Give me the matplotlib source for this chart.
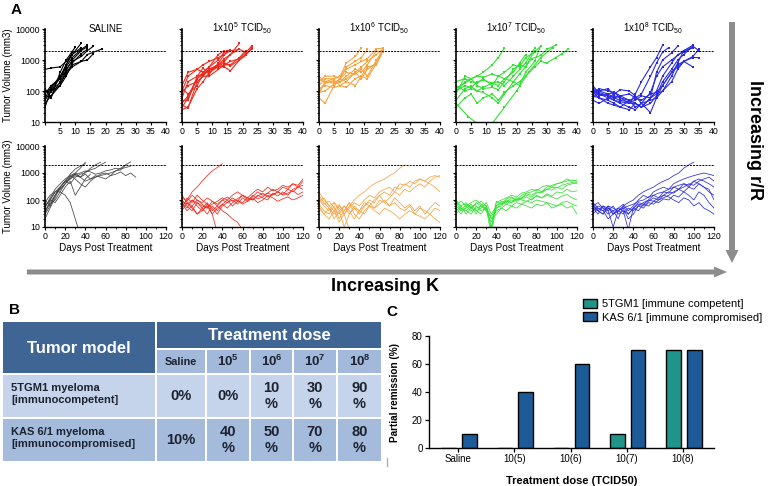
import matplotlib
matplotlib.use('Agg')
import matplotlib.pyplot as plt
from matplotlib.patches import Rectangle, FancyArrow
from matplotlib.ticker import LogLocator, NullFormatter, FixedLocator, MultipleLocator
import numpy as np

plt.rcParams['font.family'] = ['Liberation Sans', 'DejaVu Sans']
plt.rcParams['mathtext.fontset'] = 'custom'
plt.rcParams['mathtext.rm'] = 'Liberation Sans'
plt.rcParams['mathtext.it'] = 'Liberation Sans:italic'
plt.rcParams['mathtext.bf'] = 'Liberation Sans:bold'

# ---------------- DATA ----------------
PANEL_TITLES = ['SALINE', r'1x10$^{5}$ TCID$_{50}$', r'1x10$^{6}$ TCID$_{50}$',
                r'1x10$^{7}$ TCID$_{50}$', r'1x10$^{8}$ TCID$_{50}$']
PANEL_COLORS = ['#000000', '#ee2a1e', '#f6a443', '#33e033', '#2a2ae0']
BOTTOM_COLORS = ['#444444', '#ee2a1e', '#f6a443', '#33e033', '#2a2ae0']
THRESHOLD = 2000

TOP_SALINE = [
    ([0, 2, 5, 7, 9, 12], [60, 130, 300, 700, 1500, 3500]),
    ([0, 2, 5, 7, 9, 12, 14], [90, 120, 250, 600, 1200, 2200, 3000]),
    ([0, 2, 5, 7, 9, 12], [500, 550, 600, 900, 1500, 2500]),
    ([0, 2, 5, 7, 9, 12, 14, 16], [70, 65, 200, 500, 900, 1300, 2000, 2800]),
    ([0, 2, 5, 7, 9, 12, 14, 19], [100, 90, 300, 400, 700, 900, 1500, 2300]),
    ([0, 2, 5, 7, 9, 12, 14], [50, 100, 150, 450, 1000, 2000, 2700]),
    ([0, 2, 5, 7, 9, 12, 14, 16], [30, 110, 180, 350, 600, 900, 1000, 1600]),
    ([0, 2, 5, 7, 10], [120, 60, 400, 1000, 2600]),
    ([0, 2, 5, 7, 9, 12], [80, 150, 250, 700, 1800, 2000]),
    ([0, 2, 5, 7, 9, 12, 14], [40, 70, 150, 300, 800, 1600, 2200]),
]
TOP_1E5 = [
    ([0, 2, 5, 7, 9, 12, 14, 16, 19], [30, 60, 250, 350, 500, 700, 900, 1500, 3500]),
    ([0, 2, 5, 7, 9, 12, 14, 16, 19, 21, 23], [25, 30, 120, 200, 400, 600, 700, 900, 1100, 1700, 2800]),
    ([0, 2, 5, 7, 9, 12, 14, 16, 19, 21], [150, 400, 500, 700, 900, 1200, 1500, 2000, 2200, 1800]),
    ([0, 2, 5, 7, 9, 12, 14, 16], [100, 300, 500, 400, 600, 1000, 1800, 2100]),
    ([0, 2, 5, 7, 9, 12, 14, 16, 19, 21, 23], [50, 50, 300, 350, 500, 600, 600, 450, 1000, 1500, 2200]),
    ([0, 2, 5, 7, 9, 12, 14, 16, 19, 21], [90, 150, 200, 300, 300, 500, 700, 700, 1200, 2000]),
    ([0, 2, 5, 7, 9, 12, 14], [40, 70, 250, 400, 600, 1500, 2000]),
    ([0, 2, 5, 7, 9, 12, 14, 16, 19, 21, 23], [120, 80, 150, 350, 450, 650, 800, 650, 1000, 1400, 2500]),
    ([0, 2, 5, 7, 9, 12, 14, 16, 19], [35, 28, 200, 300, 500, 700, 1100, 1500, 2300]),
    ([0, 2, 5, 7, 9, 12, 15], [60, 200, 300, 550, 350, 800, 2000]),
]
TOP_1E6 = [
    ([0, 2, 5, 7, 9, 12, 14], [150, 250, 250, 300, 800, 1300, 2500]),
    ([0, 2, 5, 7, 9, 12, 14, 16, 19, 21], [100, 180, 200, 200, 250, 400, 600, 900, 1500, 2200]),
    ([0, 2, 5, 7, 9, 12, 14, 16, 19, 21], [300, 200, 180, 250, 400, 350, 500, 300, 1000, 2000]),
    ([0, 2, 5, 7, 9, 12, 14, 16, 19, 21], [80, 200, 250, 300, 500, 700, 900, 1100, 2300, 2400]),
    ([0, 2, 5, 7, 9, 12, 14, 16, 19, 21], [60, 40, 150, 250, 200, 400, 250, 500, 800, 2100]),
    ([0, 2, 5, 7, 9, 12, 14, 16], [200, 300, 300, 250, 600, 900, 1200, 2200]),
    ([0, 2, 5, 7, 9, 12, 14, 16, 19, 21], [120, 150, 130, 150, 130, 250, 300, 250, 800, 1800]),
    ([0, 2, 5, 7, 9, 12, 14, 16, 19], [90, 100, 170, 200, 300, 500, 400, 700, 2000]),
    ([0, 2, 5, 7, 9, 12, 14, 16, 19, 21], [250, 180, 220, 150, 200, 150, 300, 600, 700, 1900]),
]
TOP_1E7 = [
    ([0, 3, 5, 7, 9, 12, 14, 16], [100, 200, 250, 300, 400, 700, 1200, 2500]),
    ([0, 3, 5, 7, 9, 12, 14, 16, 19, 21, 23, 26, 28], [200, 250, 200, 180, 250, 150, 300, 400, 700, 600, 1200, 1800, 2800]),
    ([0, 3, 5, 7, 9, 12, 14, 16, 19, 21, 23, 26, 28, 30, 33, 35, 37],
     [30, 60, 80, 40, 60, 80, 50, 90, 150, 200, 300, 600, 900, 800, 1200, 1600, 2200]),
    ([0, 3, 5, 7, 9, 12, 14, 16, 19, 21, 23, 26], [150, 100, 120, 100, 130, 180, 200, 150, 300, 500, 800, 2400]),
    ([0, 3, 5, 7, 9, 12, 14, 16, 19, 21, 23, 25, 28, 30, 33],
     [80, 300, 250, 150, 120, 130, 110, 200, 500, 700, 600, 1100, 1400, 2200, 3000]),
    ([0, 3, 5, 7, 9, 12, 14, 16, 19, 21, 23, 26, 28], [50, 120, 140, 100, 90, 60, 40, 80, 200, 150, 400, 900, 2900]),
    ([0, 3, 5, 7, 9, 12, 14, 16, 19, 21, 23, 26], [100, 150, 130, 200, 220, 180, 150, 250, 200, 350, 600, 2000]),
    ([0, 4, 7, 10, 12, 16, 20, 24, 28, 32], [40, 15, 9, 6, 9, 30, 100, 400, 1200, 2500]),
    ([0, 3, 5, 7, 9, 12, 14, 16, 19, 21, 23], [120, 180, 250, 300, 280, 350, 300, 250, 400, 800, 1500]),
]
TOP_1E8 = [
    ([0, 2, 5, 7, 9, 12, 14, 16, 19, 21, 23], [100, 80, 60, 50, 45, 40, 80, 200, 600, 1200, 3000]),
    ([0, 2, 5, 7, 9, 12, 14, 16, 19, 21, 23, 25], [80, 120, 100, 90, 60, 50, 60, 80, 300, 800, 1800, 2500]),
    ([0, 2, 5, 7, 9, 12, 14, 16, 19, 21, 23, 26, 28], [60, 100, 120, 70, 60, 40, 40, 30, 60, 400, 1000, 1700, 2800]),
    ([0, 2, 5, 7, 9, 12, 14, 16, 19, 21, 23, 26, 28, 30, 33],
     [150, 80, 70, 60, 50, 45, 50, 70, 60, 100, 300, 800, 1500, 1800, 2500]),
    ([0, 2, 5, 7, 9, 12, 14, 16, 19, 21, 23, 26, 28, 30, 33, 35],
     [100, 70, 80, 60, 70, 50, 30, 40, 20, 60, 150, 400, 700, 900, 1200, 1200]),
    ([0, 2, 5, 7, 9, 12, 14, 16, 19, 21, 23, 26, 28, 30, 33, 35],
     [70, 60, 50, 40, 30, 50, 40, 30, 40, 70, 200, 500, 1000, 1500, 2800, 2000]),
    ([0, 2, 5, 7, 9, 12, 14, 16, 19, 21, 23, 26, 28, 30, 33],
     [120, 100, 80, 90, 70, 80, 60, 50, 80, 90, 150, 400, 600, 900, 600]),
    ([0, 2, 5, 7, 9, 12, 14, 16, 19, 21, 23, 26, 28, 30, 33],
     [90, 60, 40, 35, 30, 25, 40, 30, 60, 80, 100, 300, 800, 2000, 3000]),
    ([0, 2, 5, 7, 9, 12, 14, 16, 19, 21, 23, 26, 28, 30, 33, 35],
     [110, 90, 70, 50, 40, 30, 25, 40, 50, 60, 100, 200, 500, 900, 1300, 2200]),
    ([0, 2, 5, 7, 9, 12, 14, 16, 19, 21, 23, 26, 28, 30, 33],
     [50, 40, 60, 80, 110, 100, 70, 40, 90, 300, 600, 1000, 1400, 2000, 2600]),
]

# bottom row: volumes measured every 5 days from day 0
BOT_DAYS = [0, 5, 10, 15, 20, 25, 30, 35, 40, 45, 50, 55, 60, 65, 70, 75, 80, 85, 90, 95, 100, 105, 110, 115, 120]
BOT_SALINE = [
    [40, 80, 150, 250, 400, 700, 1000, 1500, 2500],
    [60, 100, 200, 300, 500, 400, 700, 900, 1000, 1500, 2000, 2500],
    [30, 60, 150, 300, 500, 600, 800, 700, 900, 600, 700, 800, 900, 1000, 1200, 1300, 2000, 2600],
    [50, 120, 250, 400, 600, 800, 1000, 700, 500, 600, 800, 700, 600, 800, 900, 1100, 800, 1000, 700],
    [80, 150, 200, 200, 150, 80, 20, 5],
    [20, 50, 120, 300, 500, 800, 600, 400, 300, 500, 700, 900, 1000, 800, 1200, 1500, 2000],
    [40, 70, 100, 200, 400, 600, 900, 700, 1100, 1300, 1500, 2000, 2500],
    [100, 60, 150, 300, 500, 900, 1400, 1800, 2200],
    [60, 100, 200, 250, 400, 700, 900, 1000, 1200, 1100, 900, 1000, 1200, 1300, 1500, 1400, 1600, 1800],
    [30, 100, 80, 150, 300, 500, 150, 300, 600, 900],
]
BOT_1E5 = [
    [60, 100, 200, 300, 500, 800, 1200, 1600, 2200],
    [80, 50, 100, 60, 40, 70, 50, 30, 60, 80, 100, 70, 120, 90, 150, 110, 130, 180, 150, 200, 160, 250, 200, 300, 500],
    [100, 60, 40, 80, 50, 30, 60, 40, 70, 100, 60, 90, 80, 120, 100, 150, 120, 100, 180, 140, 200, 150, 250, 300, 250],
    [50, 120, 80, 150, 100, 70, 30, 6],
    [150, 80, 60, 100, 70, 50, 90, 60, 40, 30, 20, 15, 8],
    [70, 40, 60, 30, 50, 80, 40, 60, 100, 80, 120, 90, 150, 100, 130, 200, 150, 180, 250, 200, 300, 250, 400, 350, 600],
    [120, 90, 150, 100, 80, 120, 90, 70, 100, 130, 90, 110, 150, 120, 100, 140, 180, 130, 160, 200, 150, 180, 220, 160, 200],
    [40, 80, 50, 30, 40, 60, 30, 50, 70, 50, 80, 100, 70, 90, 120, 80, 100, 150, 120, 90, 110, 130, 100, 120, 150],
    [90, 70, 100, 80, 60, 50, 70, 90, 120, 100, 150, 200, 150, 120, 180, 250, 200, 300, 220, 250, 350, 300, 400, 300, 350],
]
BOT_1E6 = [
    [100, 60, 40, 80, 50, 30, 60, 100, 150, 200, 300, 400, 500, 600, 800, 1000, 1500, 2000],
    [70, 40, 30, 60, 20, 40, 80, 50, 30, 60, 100, 80, 150, 200, 150, 300, 250, 400, 300, 500, 600, 500, 700, 800, 700],
    [150, 80, 50, 30, 60, 40, 80, 30, 20, 40, 60, 50, 100, 80, 60, 120, 80, 50, 70, 40, 60, 30, 50, 80, 60],
    [50, 30, 20, 40, 15, 30, 8],
    [90, 120, 60, 40, 70, 30, 50, 80, 60, 100, 150, 120, 200, 250, 300, 200, 400, 350, 500, 400, 600, 500, 400, 300, 200],
    [200, 100, 60, 80, 40, 60, 30, 50, 40, 30, 60, 40, 30, 50, 40, 30, 20, 30, 40, 30, 25, 20, 30, 20, 15],
    [60, 30, 50, 20, 40, 10, 30, 60, 40, 80, 60, 100, 150, 80, 120, 200, 150, 250, 200, 300, 400, 300, 500, 700, 800],
    [120, 70, 90, 50, 30, 60, 40, 20, 40, 60, 80, 50, 70, 100, 60, 80, 50, 40, 60, 30, 50, 40, 30, 50, 40],
]
BOT_1E7 = [
    [100, 60, 80, 50, 70, 90, 60, 8, 80, 100, 120, 150, 130, 180, 200, 250, 220, 300, 350, 300, 400, 450, 500, 550, 500],
    [50, 30, 60, 40, 50, 60, 40, 15, 50, 70, 90, 80, 100, 120, 150, 130, 180, 200, 250, 300, 280, 350, 400, 450, 400],
    [80, 40, 50, 70, 40, 50, 80, 30, 60, 80, 70, 100, 90, 110, 130, 100, 150, 120, 170, 140, 200, 180, 250, 200, 220],
    [30, 50, 40, 30, 60, 40, 50, 20, 40, 50, 70, 60, 80, 70, 90, 80, 100, 90, 80, 70, 60, 80, 90, 70, 60],
    [70, 90, 60, 80, 100, 70, 60, 10, 90, 70, 110, 130, 100, 120, 170, 150, 200, 180, 250, 230, 300, 250, 350, 400, 450],
    [40, 60, 30, 50, 40, 30, 60, 20, 30, 50, 40, 60, 50, 70, 60, 50, 70, 60, 80, 50, 60, 70, 50, 60, 30],
    [60, 40, 70, 50, 80, 60, 50, 5, 60, 90, 80, 120, 100, 150, 180, 200, 250, 200, 300, 350, 400, 450, 600, 500, 550],
    [90, 50, 40, 60, 30, 70, 40, 25, 50, 60, 100, 80, 120, 100, 90, 110, 140, 120, 150, 130, 110, 140, 160, 120, 100],
]
BOT_1E8 = [
    [60, 40, 30, 50, 40, 20, 60, 80, 100, 150, 200, 250, 300, 400, 500, 600, 800, 1000, 1500, 2000, 2500],
    [80, 50, 40, 60, 30, 50, 70, 40, 60, 100, 150, 120, 200, 250, 300, 250, 400, 500, 600, 700, 800, 900, 1000, 900, 800],
    [50, 30, 60, 40, 10, 40, 60, 30, 50, 80, 70, 100, 150, 120, 200, 180, 300, 250, 400, 350, 500, 600, 500, 400, 300],
    [40, 60, 50, 30, 40, 50, 40, 8, 50, 70, 60, 90, 120, 100, 150, 200, 180, 250, 200, 300, 250, 400, 300, 250, 100],
    [70, 40, 30, 60, 50, 40, 30, 50, 40, 60, 80, 100, 90, 120, 150, 130, 100, 80, 120, 100, 60, 80, 50, 40, 30],
    [30, 50, 40, 20, 30, 40, 50, 20, 30, 60, 50, 80, 70, 100, 120, 150, 200, 250, 300, 400, 350, 500, 600, 700, 500],
    [60, 80, 50, 40, 60, 30, 40, 30, 50, 40, 70, 60, 90, 80, 110, 100, 150, 130, 200, 150, 100, 200, 150, 80, 50],
    [50, 40, 60, 50, 30, 40, 50, 60, 70, 90, 100, 130, 150, 180, 200, 250, 300, 350, 400, 300, 500, 400, 300, 200, 150],
]

# Panel B table
DOSE_LABELS = ['Saline', r'$\mathbf{10^{5}}$', r'$\mathbf{10^{6}}$', r'$\mathbf{10^{7}}$', r'$\mathbf{10^{8}}$']
MODEL_LABELS = ['5TGM1 myeloma\n[immunocompetent]', 'KAS 6/1 myeloma\n[immunocompromised]']
TABLE_5TGM1 = ['0%', '0%', '10\n%', '30\n%', '90\n%']
TABLE_KAS = ['10%', '40\n%', '50\n%', '70\n%', '80\n%']

# Panel C bars
BAR_CATEGORIES = ['Saline', '10(5)', '10(6)', '10(7)', '10(8)']
REMISSION_5TGM1 = [0, 0, 0, 10, 70]
REMISSION_KAS = [10, 40, 60, 70, 70]

# ---------------- FIGURE ----------------
W, H = 770, 486
fig = plt.figure(figsize=(7.7, 4.86), dpi=100)


def rect(x, y, w, h):
    return [x / W, 1 - (y + h) / H, w / W, h / H]


canvas = fig.add_axes([0, 0, 1, 1])
canvas.set_xlim(0, W)
canvas.set_ylim(H, 0)
canvas.axis('off')

PANEL_X = [45, 182, 319, 456, 593]
PANEL_W = 121
TOP_Y, TOP_H = 29, 93
BOT_Y, BOT_H = 146, 81


def style_log(ax, first):
    ax.set_yscale('log')
    ax.set_ylim(10, 10000)
    for s in ['top', 'right']:
        ax.spines[s].set_visible(False)
    ax.spines['left'].set_linewidth(1.2)
    ax.spines['bottom'].set_linewidth(1.0)
    ax.yaxis.set_major_locator(FixedLocator([10, 100, 1000, 10000]))
    ax.yaxis.set_minor_locator(LogLocator(base=10, subs=np.arange(2, 10)))
    ax.yaxis.set_minor_formatter(NullFormatter())
    ax.tick_params(axis='both', which='major', length=2.5, width=0.8, labelsize=6.3, pad=1)
    ax.tick_params(axis='both', which='minor', length=1.5, width=0.6)
    if first:
        ax.set_yticklabels(['10', '100', '1000', '10000'])
        ax.set_ylabel('Tumor Volume (mm3)', fontsize=7)
        ax.yaxis.set_label_coords(-0.265, 0.5)
    else:
        ax.set_yticklabels([])
    ax.patch.set_alpha(0)


top_sets = [TOP_SALINE, TOP_1E5, TOP_1E6, TOP_1E7, TOP_1E8]
bot_sets = [BOT_SALINE, BOT_1E5, BOT_1E6, BOT_1E7, BOT_1E8]

for i in range(5):
    # top row
    ax = fig.add_axes(rect(PANEL_X[i], TOP_Y, PANEL_W, TOP_H))
    for days, vols in top_sets[i]:
        ax.plot(days, vols, color=PANEL_COLORS[i], lw=0.8, marker='s', ms=1.6, mew=0)
    ax.axhline(THRESHOLD, color='black', ls=(0, (2, 1.2)), lw=0.7)
    ax.set_xlim(0, 40)
    style_log(ax, i == 0)
    ax.set_xticks(list(range(0, 41, 5)))
    labels = [str(v) for v in range(0, 41, 5)]
    if i == 0:
        labels[0] = ''
    ax.set_xticklabels(labels)
    fig.text((PANEL_X[i] + PANEL_W / 2) / W, 1 - 28.5 / H, PANEL_TITLES[i],
             ha='center', va='center', fontsize=7)

    # bottom row
    axb = fig.add_axes(rect(PANEL_X[i], BOT_Y, PANEL_W, BOT_H))
    for vols in bot_sets[i]:
        axb.plot(BOT_DAYS[:len(vols)], vols, color=BOTTOM_COLORS[i], lw=0.55)
    axb.axhline(THRESHOLD, color='black', ls=(0, (2, 1.2)), lw=0.7)
    axb.set_xlim(0, 120)
    style_log(axb, i == 0)
    axb.set_xticks(list(range(0, 121, 20)))
    axb.xaxis.set_minor_locator(MultipleLocator(10))
    axb.set_xlabel('Days Post Treatment', fontsize=7.2)
    axb.xaxis.set_label_coords(0.5, -0.2)

# Arrows and labels
arrow_color = '#8c8c8c'
canvas.add_patch(FancyArrow(27, 272, 700, 0, width=5, head_width=11, head_length=13,
                            length_includes_head=True, color=arrow_color, lw=0))
canvas.add_patch(FancyArrow(732, 22, 0, 241, width=6, head_width=13, head_length=13,
                            length_includes_head=True, color=arrow_color, lw=0))
canvas.text(385, 286, 'Increasing K', ha='center', va='center', fontsize=13, fontweight='bold')
canvas.text(754, 140, 'Increasing r/R', ha='center', va='center', fontsize=13,
            fontweight='bold', rotation=270)

canvas.text(16, 10, 'A', ha='center', va='center', fontsize=11, fontweight='bold')
canvas.text(15, 310, 'B', ha='center', va='center', fontsize=11, fontweight='bold')
canvas.text(392, 312, 'C', ha='center', va='center', fontsize=11, fontweight='bold')

# ---------------- TABLE (B) ----------------
c_head = '#3f6594'
c_sub = '#a3b9db'
c_row1 = '#c5d4ea'
c_row2 = '#a5bbdc'
txt_dark = '#1c2230'


def cell(x0, x1, y0, y1, color):
    canvas.add_patch(Rectangle((x0, y0), x1 - x0, y1 - y0, facecolor=color, edgecolor='none'))


cell(3, 155, 322, 373, c_head)
canvas.text(79, 348, 'Tumor model', ha='center', va='center', fontsize=12, fontweight='bold', color='white')
cell(157, 381, 322, 348, c_head)
canvas.text(269, 335, 'Treatment dose', ha='center', va='center', fontsize=12, fontweight='bold', color='white')
cols = [(157, 205), (207, 249), (251, 292), (294, 336), (338, 381)]
for (x0, x1), lab in zip(cols, DOSE_LABELS):
    cell(x0, x1, 350, 373, c_sub)
    fs = 7.8 if lab == 'Saline' else 9.5
    canvas.text((x0 + x1) / 2, 361.5, lab, ha='center', va='center', fontsize=fs,
                fontweight='bold', color=txt_dark)
rows = [(375, 417, c_row1, TABLE_5TGM1), (419, 461, c_row2, TABLE_KAS)]
for (y0, y1, col, vals), mlab in zip(rows, MODEL_LABELS):
    cell(3, 155, y0, y1, col)
    canvas.text(11, (y0 + y1) / 2 - 2, mlab, ha='left', va='center', fontsize=8,
                fontweight='bold', color=txt_dark, linespacing=1.2)
    for (x0, x1), v in zip(cols, vals):
        cell(x0, x1, y0, y1, col)
        canvas.text((x0 + x1) / 2, (y0 + y1) / 2, v, ha='center', va='center', fontsize=10.5,
                    fontweight='bold', color=txt_dark, linespacing=1.1)

canvas.plot([387, 387], [458, 466], color='#b0b0b0', lw=1)

# ---------------- BARS (C) ----------------
axc = fig.add_axes(rect(429, 336, 285, 112))
x = np.arange(len(BAR_CATEGORIES))
bw = 0.26
axc.bar(x - 0.17, REMISSION_5TGM1, width=bw, color='#1f958a', edgecolor='black', lw=1,
        label='5TGM1 [immune competent]')
axc.bar(x + 0.2, REMISSION_KAS, width=bw, color='#1d5a98', edgecolor='black', lw=1,
        label='KAS 6/1 [immune compromised]')
axc.set_xlim(-0.52, 4.55)
axc.set_ylim(0, 80)
axc.set_yticks([0, 20, 40, 60, 80])
axc.set_xticks(x)
axc.set_xticklabels(BAR_CATEGORIES)
for s in ['top', 'right']:
    axc.spines[s].set_visible(False)
axc.spines['left'].set_linewidth(1.0)
axc.spines['bottom'].set_linewidth(1.0)
axc.tick_params(axis='both', length=3, width=0.9, labelsize=7, pad=1.5)
axc.set_ylabel('Partial remission (%)', fontsize=7.2, fontweight='bold')
axc.yaxis.set_label_coords(-0.1, 0.5)
axc.set_xlabel('Treatment dose (TCID50)', fontsize=8, fontweight='bold')
axc.xaxis.set_label_coords(0.5, -0.25)
axc.legend(loc='upper left', bbox_to_anchor=(583 / W, 1 - 299 / H), bbox_transform=fig.transFigure,
           frameon=False, fontsize=8, handlelength=1.3, handleheight=0.9, handletextpad=0.4,
           borderpad=0, borderaxespad=0, labelspacing=0.25)

fig.savefig('out.png', dpi=100)
